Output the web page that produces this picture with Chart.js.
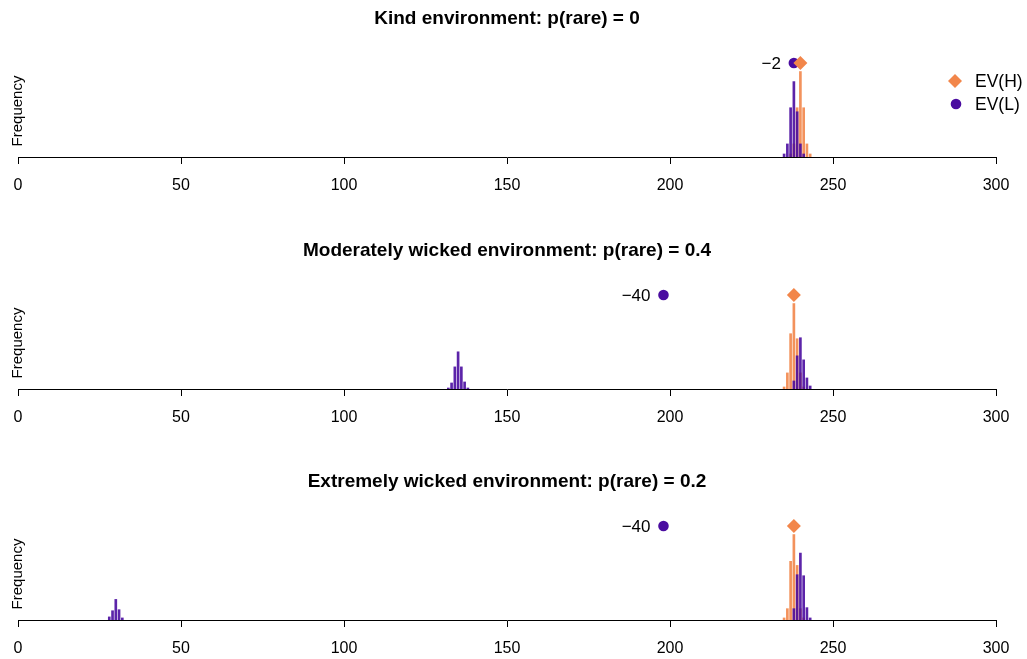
<!DOCTYPE html>
<html><head><meta charset="utf-8">
<script src="https://cdn.jsdelivr.net/npm/chart.js@4.4.1/dist/chart.umd.min.js"></script>
<style>
html,body{margin:0;padding:0;background:#fff;overflow:hidden;width:1027px;height:659px;}
.p{position:absolute;left:0;width:1027px;height:200px;}
canvas{display:block;}
</style></head><body>
<div class="p" style="top:0px"><canvas id="c0" width="1027" height="200"></canvas></div>
<div class="p" style="top:232px"><canvas id="c1" width="1027" height="200"></canvas></div>
<div class="p" style="top:463px"><canvas id="c2" width="1027" height="200"></canvas></div>
<script>
// ---- data ----
const xTicks = [0, 50, 100, 150, 200, 250, 300];
const panelTitles = [
  'Kind environment: p(rare) = 0',
  'Moderately wicked environment: p(rare) = 0.4',
  'Extremely wicked environment: p(rare) = 0.2'
];
const seriesNames = ['EV(H)', 'EV(L)'];
const yLabel = 'Frequency';

// Kind environment
const kindHBins = [237, 238, 239, 240, 241, 242, 243];
const kindHFreq = [3, 13, 49, 85, 49, 13, 3];
const kindLBins = [235, 236, 237, 238, 239, 240, 241];
const kindLFreq = [3, 13, 49, 75, 45, 13, 3];

// Moderately wicked environment
const modHBins = [235, 236, 237, 238, 239, 240, 241];
const modHFreq = [2, 16, 55, 85, 50, 16, 2];
const modLBins = [132, 133, 134, 135, 136, 137, 138, 238, 239, 240, 241, 242, 243];
const modLFreq = [1, 6, 22, 37, 22, 7, 1, 8, 33, 51, 29, 11, 3];

// Extremely wicked environment
const extHBins = [235, 236, 237, 238, 239, 240, 241];
const extHFreq = [2, 11, 57, 83, 53, 11, 2];
const extLBins = [28, 29, 30, 31, 32, 238, 239, 240, 241, 242, 243];
const extLFreq = [3, 9, 20, 10, 2, 11, 44, 65, 43, 12, 2];

const evH = [240, 238, 238];
const evL = [238, 198, 198];

// ---- style ----
const ORANGE = '#F2864A';
const PURPLE = '#4A0CA0';
const ORANGE_BAR = 'rgba(242,134,74,0.9)';
const PURPLE_BAR = 'rgba(74,12,160,0.9)';
const FONT = '"Liberation Sans", Arial, Helvetica, sans-serif';

function fmtDiff(v) {
  const r = Math.round(v * 100) / 100;
  return (r < 0 ? '\u2212' : '') + Math.abs(r);
}

function drawDiamond(ctx, x, y, r, color) {
  ctx.beginPath();
  ctx.moveTo(x, y - r); ctx.lineTo(x + r, y); ctx.lineTo(x, y + r); ctx.lineTo(x - r, y);
  ctx.closePath(); ctx.fillStyle = color; ctx.fill();
}
function drawDot(ctx, x, y, r, color) {
  ctx.beginPath(); ctx.arc(x, y, r, 0, Math.PI * 2); ctx.fillStyle = color; ctx.fill();
}

function makeChart(idx, hb, hf, lb, lf, showLegend) {
  const yMax = Math.max(...hf, ...lf) * 1.1;
  const deco = {
    id: 'deco' + idx,
    afterDatasetsDraw(chart) {
      const ctx = chart.ctx, ca = chart.chartArea;
      const xs = chart.scales.x;
      ctx.save();
      // title
      ctx.fillStyle = '#000';
      ctx.font = 'bold 19px ' + FONT;
      ctx.textAlign = 'center'; ctx.textBaseline = 'middle';
      ctx.fillText(panelTitles[idx], (ca.left + ca.right) / 2, 19);
      // y label
      ctx.save();
      ctx.translate(18, 111);
      ctx.rotate(-Math.PI / 2);
      ctx.font = '15px ' + FONT;
      ctx.textAlign = 'center'; ctx.textBaseline = 'middle';
      ctx.fillText(yLabel, 0, 0);
      ctx.restore();
      // difference label
      const lx = xs.getPixelForValue(evL[idx]);
      const ly = chart.scales.y.getPixelForValue(yMax);
      ctx.font = '17px ' + FONT;
      ctx.textAlign = 'right'; ctx.textBaseline = 'middle';
      ctx.fillText(fmtDiff(evL[idx] - evH[idx]), lx - 13, ly + 1);
      // legend
      if (showLegend) {
        drawDiamond(ctx, 955, 81, 7, ORANGE);
        drawDot(ctx, 956, 104, 5.3, PURPLE);
        ctx.fillStyle = '#000';
        ctx.textAlign = 'left';
        ctx.font = '17.5px ' + FONT;
        ctx.fillText(seriesNames[0], 975, 82);
        ctx.fillText(seriesNames[1], 975, 105);
      }
      ctx.restore();
    }
  };
  return new Chart(document.getElementById('c' + idx), {
    type: 'bar',
    data: {
      datasets: [
        { label: 'H', data: hb.map((x, k) => ({ x: x, y: hf[k] })), backgroundColor: ORANGE_BAR,
          barThickness: 2, grouped: false, order: 3 },
        { label: 'L', data: lb.map((x, k) => ({ x: x, y: lf[k] })), backgroundColor: PURPLE_BAR,
          barThickness: 2, grouped: false, order: 2 },
        { type: 'scatter', label: seriesNames[0], data: [{ x: evH[idx], y: yMax }], pointStyle: 'rectRot',
          pointRadius: 7, backgroundColor: ORANGE, borderWidth: 0, clip: false, order: 0 },
        { type: 'scatter', label: seriesNames[1], data: [{ x: evL[idx], y: yMax }], pointStyle: 'circle',
          pointRadius: 5.3, backgroundColor: PURPLE, borderWidth: 0, clip: false, order: 1 }
      ]
    },
    options: {
      responsive: false, animation: false, devicePixelRatio: 1,
      layout: { padding: { left: 18, right: 31, top: 63, bottom: 0 } },
      plugins: { legend: { display: false }, tooltip: { enabled: false }, title: { display: false } },
      scales: {
        x: {
          type: 'linear', min: 0, max: 300, offset: false,
          afterBuildTicks: s => { s.ticks = xTicks.map(v => ({ value: v })); },
          afterFit: s => { s.height = 43; },
          grid: { offset: false, drawOnChartArea: false, drawTicks: true, tickLength: 7, color: '#000', lineWidth: 1 },
          border: { display: true, color: '#000', width: 1 },
          ticks: { color: '#000', font: { family: FONT, size: 16 }, padding: 12, maxRotation: 0, autoSkip: false }
        },
        y: { display: false, min: 0, max: yMax }
      }
    },
    plugins: [deco]
  });
}

makeChart(0, kindHBins, kindHFreq, kindLBins, kindLFreq, true);
makeChart(1, modHBins, modHFreq, modLBins, modLFreq, false);
makeChart(2, extHBins, extHFreq, extLBins, extLFreq, false);
</script>
</body></html>
